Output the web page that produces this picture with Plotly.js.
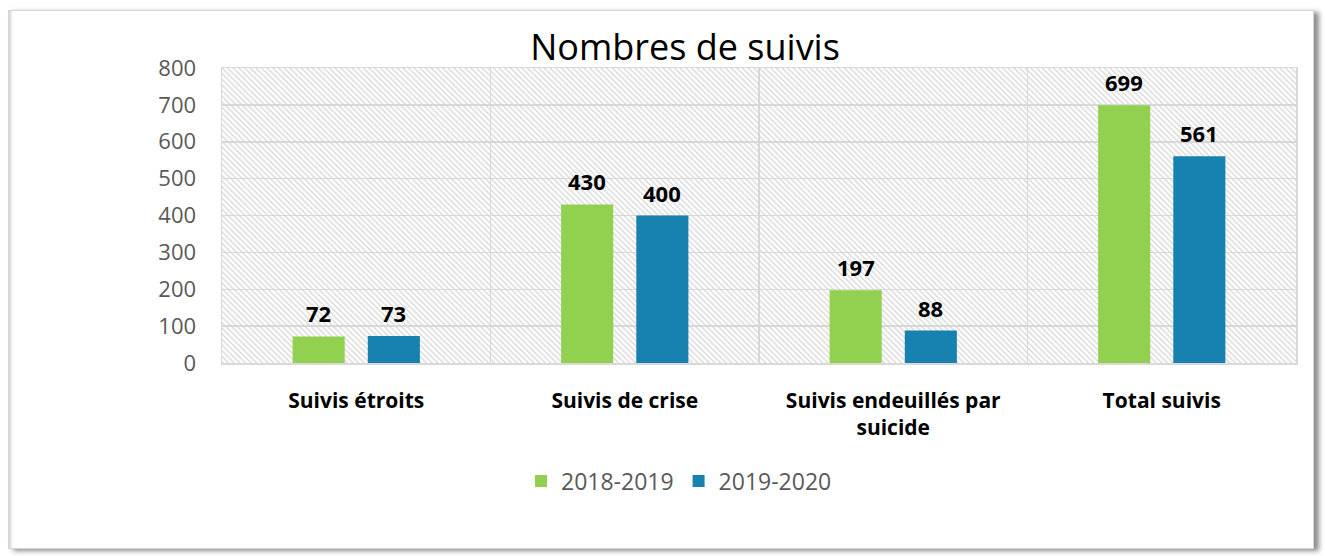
<!DOCTYPE html>
<html><head><meta charset="utf-8">
<script src="https://cdn.plot.ly/plotly-3.0.1.min.js"></script>
<style>
html,body{margin:0;padding:0;background:#fff;width:1325px;height:556px;overflow:hidden}
#frame{position:absolute;left:8px;top:10px;width:1304px;height:537px;border:1px solid #d6d6d6;
box-shadow:5px 2px 5px rgba(0,0,0,0.45), inset 4px 0 3px -2px rgba(0,0,0,0.18);background:#fff}
#chart{position:absolute;left:0;top:0;width:1325px;height:556px}
</style></head>
<body>
<div id="frame"></div>
<div id="chart"></div>
<script>
const categories = ["Suivis étroits", "Suivis de crise", "Suivis endeuillés par<br>suicide", "Total suivis"];
const seriesNames = ["2018-2019", "2019-2020"];
const values2018 = [72, 430, 197, 699];
const values2019 = [73, 400, 88, 561];
const seriesColors = ["#92d050", "#1782b0"];
const yTicks = [0, 100, 200, 300, 400, 500, 600, 700, 800];

const idx = categories.map((c, i) => i);
const barW = 0.194;
const gap = 0.086;
const offsets = [-gap / 2 - barW, gap / 2];
const allValues = [values2018, values2019];
const FONT = 'Open Sans, sans-serif';

const bg = {
  type: 'bar', x: [(idx.length - 1) / 2], y: [yTicks[yTicks.length - 1]], width: [idx.length],
  marker: {color: 'rgba(0,0,0,0)', line: {width: 0},
    pattern: {shape: '\\', fgcolor: '#d4d4d4', bgcolor: 'rgba(0,0,0,0)', size: 4, solidity: 0.3}},
  hoverinfo: 'skip', showlegend: false
};

const traces = [bg].concat(allValues.map((vals, s) => ({
  type: 'bar', name: seriesNames[s], x: idx, y: vals,
  width: idx.map(() => barW), offset: idx.map(() => offsets[s]),
  marker: {color: seriesColors[s], line: {width: 0}}
})));

const annotations = [];
allValues.forEach((vals, s) => vals.forEach((v, i) => {
  annotations.push({x: i + offsets[s] + barW / 2, y: v, xref: 'x', yref: 'y', text: '<b>' + v + '</b>',
    showarrow: false, yanchor: 'bottom', yshift: 6,
    font: {family: FONT, size: 22, color: '#000'}});
}));

const layout = {
  width: 1325, height: 556,
  paper_bgcolor: 'rgba(0,0,0,0)', plot_bgcolor: 'rgba(0,0,0,0)',
  margin: {l: 222, r: 29, t: 68, b: 193},
  barmode: 'overlay',
  title: {text: 'Nombres de suivis', x: 0.517, xref: 'container', xanchor: 'center', y: 0.915, yref: 'container', yanchor: 'middle',
    font: {family: FONT, size: 36, color: '#000'}},
  xaxis: {range: [-0.5, idx.length - 0.5], tickmode: 'array', tickvals: idx, ticktext: categories,
    showgrid: false, zeroline: false, showline: true, linecolor: '#d9d9d9', linewidth: 1.5, mirror: true,
    ticks: '', ticklabelstandoff: 18,
    minor: {tick0: 0.5, dtick: 1, showgrid: true, gridcolor: '#d9d9d9', gridwidth: 1.5, ticks: ''},
    tickfont: {family: FONT, size: 21, color: '#000', weight: 'bold'}},
  yaxis: {range: [0, 800], tickmode: 'array', tickvals: yTicks, showgrid: true, gridcolor: '#d9d9d9', gridwidth: 1.5,
    zeroline: false, showline: true, linecolor: '#d9d9d9', linewidth: 1.5, mirror: true, ticks: '', ticklabelstandoff: 20,
    tickfont: {family: FONT, size: 22, color: '#595959'}},
  legend: {orientation: 'h', x: 0.4255, xanchor: 'center', y: -0.4, yanchor: 'middle',
    font: {family: FONT, size: 23, color: '#595959'}, itemwidth: 30, traceorder: 'normal'},
  annotations: annotations,
  showlegend: true
};

Plotly.newPlot('chart', traces, layout, {displayModeBar: false, staticPlot: true});
</script>
</body></html>
